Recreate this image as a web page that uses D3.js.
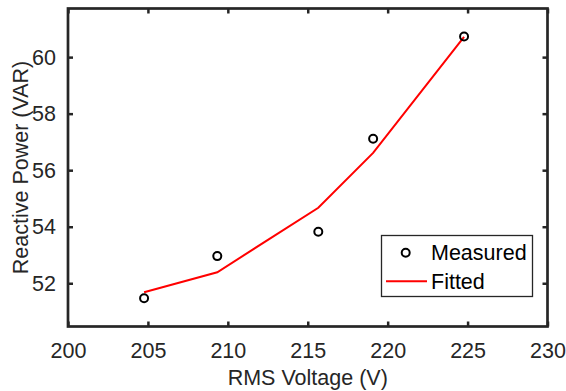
<!DOCTYPE html>
<html>
<head>
<meta charset="utf-8">
<script src="https://cdn.jsdelivr.net/npm/d3@7"></script>
<style>
  html, body { margin: 0; padding: 0; background: #fff; }
  svg { display: block; font-family: "Liberation Sans", Arial, sans-serif; }
</style>
</head>
<body>
<svg id="chart" width="566" height="391"></svg>
<script>
// Measured reactive power versus RMS voltage, with fitted curve
const voltage = [204.76, 209.34, 215.66, 219.09, 224.78];
const measured = [51.47, 52.96, 53.82, 57.11, 60.73];
const fitted = [51.68, 52.39, 54.67, 56.61, 60.72];
const xTicks = [200, 205, 210, 215, 220, 225, 230];
const yTicks = [52, 54, 56, 58, 60];

(function () {
  const svg = d3.select("#chart");
  const plotLeft = 68, plotRight = 547.5, plotTop = 8.5, plotBottom = 326.5;
  const ink = "#262626";

  const x = d3.scaleLinear().domain([200, 230]).range([plotLeft, plotRight]);
  const y = d3.scaleLinear().domain([50.47, 61.72]).range([plotBottom, plotTop]);

  const tickLen = 5;
  const fontSize = 21.5;

  // Axes (box on all four sides, ticks pointing inward)
  svg.append("g").attr("transform", `translate(0,${plotBottom})`)
    .call(d3.axisBottom(x).tickValues(xTicks).tickSize(-tickLen).tickPadding(16).tickFormat(d3.format("d")))
    .call(g => g.select(".domain").remove());
  svg.append("g").attr("transform", `translate(0,${plotTop})`)
    .call(d3.axisTop(x).tickValues(xTicks).tickSize(-tickLen).tickFormat(""))
    .call(g => g.select(".domain").remove());
  svg.append("g").attr("transform", `translate(${plotLeft},0)`)
    .call(d3.axisLeft(y).tickValues(yTicks).tickSize(-tickLen).tickPadding(12).tickFormat(d3.format("d")))
    .call(g => g.select(".domain").remove());
  svg.append("g").attr("transform", `translate(${plotRight},0)`)
    .call(d3.axisRight(y).tickValues(yTicks).tickSize(-tickLen).tickFormat(""))
    .call(g => g.select(".domain").remove());

  svg.selectAll(".tick line").attr("stroke", ink).attr("stroke-width", 2.5);
  svg.selectAll(".tick text").attr("fill", ink).attr("font-size", fontSize)
    .attr("font-family", "Liberation Sans, Arial, sans-serif");

  svg.append("rect")
    .attr("x", plotLeft).attr("y", plotTop)
    .attr("width", plotRight - plotLeft).attr("height", plotBottom - plotTop)
    .attr("fill", "none").attr("stroke", ink).attr("stroke-width", 2.7);

  // Fitted curve
  const line = d3.line().x((d, i) => x(voltage[i])).y(d => y(d));
  svg.append("path").datum(fitted)
    .attr("d", line)
    .attr("fill", "none").attr("stroke", "#ff0000").attr("stroke-width", 2);

  // Measured points
  svg.selectAll("circle.pt").data(measured).join("circle")
    .attr("class", "pt")
    .attr("cx", (d, i) => x(voltage[i])).attr("cy", d => y(d))
    .attr("r", 4).attr("fill", "none").attr("stroke", "#000").attr("stroke-width", 2);

  // Axis titles
  svg.append("text")
    .attr("x", (plotLeft + plotRight) / 2).attr("y", 385)
    .attr("text-anchor", "middle").attr("fill", ink).attr("font-size", fontSize)
    .text("RMS Voltage (V)");
  svg.append("text")
    .attr("transform", `translate(28,${(plotTop + plotBottom) / 2}) rotate(-90)`)
    .attr("text-anchor", "middle").attr("fill", ink).attr("font-size", fontSize)
    .text("Reactive Power (VAR)");

  // Legend
  const lg = svg.append("g");
  lg.append("rect")
    .attr("x", 381.5).attr("y", 235.5).attr("width", 151).attr("height", 61)
    .attr("fill", "#fff").attr("stroke", ink).attr("stroke-width", 1.3);
  lg.append("circle")
    .attr("cx", 405.7).attr("cy", 252.7).attr("r", 4)
    .attr("fill", "none").attr("stroke", "#000").attr("stroke-width", 2);
  lg.append("text").attr("x", 431).attr("y", 260)
    .attr("fill", "#000").attr("font-size", fontSize).text("Measured");
  lg.append("line")
    .attr("x1", 386).attr("x2", 427).attr("y1", 281.3).attr("y2", 281.3)
    .attr("stroke", "#ff0000").attr("stroke-width", 2);
  lg.append("text").attr("x", 431).attr("y", 288.5)
    .attr("fill", "#000").attr("font-size", fontSize).text("Fitted");
})();
</script>
</body>
</html>
